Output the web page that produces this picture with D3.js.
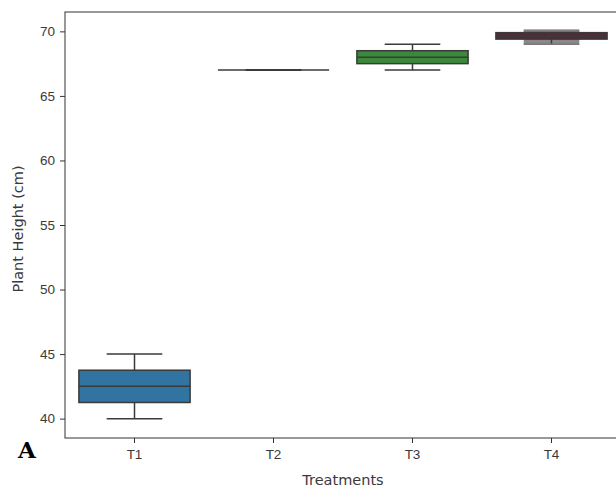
<!DOCTYPE html>
<head>
    <style>
        body { margin: 0; background: #fff; }
        svg { display: block; font-family: 'DejaVu Sans', sans-serif; }
        .axis text { fill: #3a3a3a; font-size: 13.5px; }
        .axis path, .axis line { stroke: #333; }
        .lbl { fill: #3a3a3a; font-size: 14.5px; }
    </style>
</head>
<body>
    <script src="https://d3js.org/d3.v7.min.js"></script>
    <script>
        // box statistics
        var treatments = ['T1', 'T2', 'T3', 'T4'];
        var mins    = [40,    67, 67,   69];
        var q1s     = [41.25, 67, 67.5, 69.4];
        var medians = [42.5,  67, 68,   69.65];
        var q3s     = [43.75, 67, 68.5, 69.9];
        var maxs    = [45,    67, 69,   70];
        var colors  = ['#3174a1', '#e1812c', '#3b8a3b', '#55293a'];
        var y_ticks = [40, 45, 50, 55, 60, 65, 70];

        var data = treatments.map((t, i) => ({
            name: t, min: mins[i], q1: q1s[i], med: medians[i],
            q3: q3s[i], max: maxs[i], color: colors[i]
        }));

        var dim = {'w': 556, 'h': 426,
                   margin: {'left': 65, 'top': 12}};

        var svg = d3.select('body')
                    .append('svg')
                    .attr('width', 616)
                    .attr('height', 489);

        var x_scale = d3.scaleBand()
                        .domain(treatments)
                        .range([0, dim.w])
                        .paddingInner(0.2)
                        .paddingOuter(0.1);
        var y_scale = d3.scaleLinear()
                        .domain([38.5, 71.5])
                        .range([dim.h, 0]);

        var g = svg.append('g')
                   .attr('transform',
                         'translate(' + dim.margin.left + ',' + dim.margin.top + ')');

        var bw = x_scale.bandwidth();
        var cx = d => x_scale(d.name) + bw / 2;

        var boxes = g.selectAll('g.box')
                     .data(data)
                     .enter()
                     .append('g')
                     .attr('class', 'box');

        // faint band between caps (as the blurred reference shows for T4)
        boxes.filter(d => d.name === 'T4')
             .append('rect')
             .attr('x', d => cx(d) - bw / 4)
             .attr('width', bw / 2)
             .attr('y', d => y_scale(d.max) - 2)
             .attr('height', d => y_scale(d.min) - y_scale(d.max) + 2)
             .attr('fill', '#8c8589');

        boxes.append('line')
             .attr('x1', cx).attr('x2', cx)
             .attr('y1', d => y_scale(d.max))
             .attr('y2', d => y_scale(d.min))
             .attr('stroke', '#3a3a3a').attr('stroke-width', 1.5);

        [['min', 'T4'], ['max', 'T4']].forEach(function(k) {
            boxes.append('line')
                 .attr('x1', d => cx(d) - bw / 4)
                 .attr('x2', d => cx(d) + bw / 4)
                 .attr('y1', d => y_scale(d[k[0]]))
                 .attr('y2', d => y_scale(d[k[0]]))
                 .attr('stroke', d => d.name === k[1] ? '#7d777a' : '#3a3a3a')
                 .attr('stroke-width', 1.5);
        });

        boxes.append('rect')
             .attr('x', d => x_scale(d.name))
             .attr('width', bw)
             .attr('y', d => y_scale(d.q3))
             .attr('height', d => y_scale(d.q1) - y_scale(d.q3))
             .attr('fill', d => d.color)
             .attr('stroke', '#3a3a3a')
             .attr('stroke-width', 1.5);

        boxes.append('line')
             .attr('x1', d => x_scale(d.name))
             .attr('x2', d => x_scale(d.name) + bw)
             .attr('y1', d => y_scale(d.med))
             .attr('y2', d => y_scale(d.med))
             .attr('stroke', '#3a3a3a').attr('stroke-width', 1.5);

        // frame
        g.append('rect')
         .attr('width', dim.w).attr('height', dim.h)
         .attr('fill', 'none').attr('stroke', '#333').attr('stroke-width', 1);

        g.append('g')
         .attr('class', 'axis')
         .attr('transform', 'translate(0,' + dim.h + ')')
         .call(d3.axisBottom(x_scale).tickSize(5).tickPadding(6))
         .call(a => a.select('.domain').remove());

        g.append('g')
         .attr('class', 'axis')
         .call(d3.axisLeft(y_scale).tickValues(y_ticks).tickSize(5).tickPadding(5))
         .call(a => a.select('.domain').remove());

        svg.append('text')
           .attr('class', 'lbl')
           .attr('x', dim.margin.left + dim.w / 2)
           .attr('y', 485)
           .attr('text-anchor', 'middle')
           .text('Treatments');

        svg.append('text')
           .attr('class', 'lbl')
           .attr('transform', 'translate(23,' + (dim.margin.top + dim.h / 2 + 4) + ') rotate(-90)')
           .attr('text-anchor', 'middle')
           .text('Plant Height (cm)');

        svg.append('text')
           .attr('x', 18).attr('y', 458)
           .attr('font-family', 'DejaVu Serif')
           .attr('font-weight', 'bold')
           .attr('font-size', 23)
           .attr('fill', '#000')
           .text('A');
    </script>
</body>
